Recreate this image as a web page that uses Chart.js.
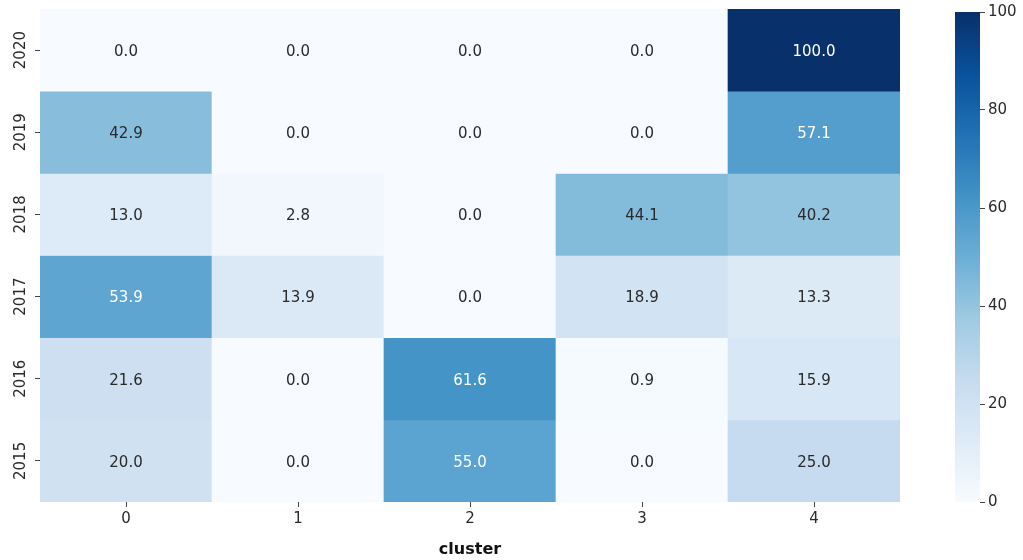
<!DOCTYPE html>
<html>
<head>
<meta charset="utf-8">
<script src="https://cdn.jsdelivr.net/npm/chart.js@4.4.1/dist/chart.umd.min.js"></script>
<style>
  body { margin: 0; background: #fff; }
  #wrap { position: relative; width: 1023px; height: 560px; }
  .box { position: absolute; top: 0; height: 560px; }
</style>
</head>
<body>
<div id="wrap">
  <div class="box" style="left:0;width:910px"><canvas id="heat"></canvas></div>
  <div class="box" style="left:940px;width:83px"><canvas id="cbar"></canvas></div>
</div>
<script>
// rows top to bottom
const years = ['2020', '2019', '2018', '2017', '2016', '2015'];
const clusters = ['0', '1', '2', '3', '4'];
const v2020 = [0.0, 0.0, 0.0, 0.0, 100.0];
const v2019 = [42.9, 0.0, 0.0, 0.0, 57.1];
const v2018 = [13.0, 2.8, 0.0, 44.1, 40.2];
const v2017 = [53.9, 13.9, 0.0, 18.9, 13.3];
const v2016 = [21.6, 0.0, 61.6, 0.9, 15.9];
const v2015 = [20.0, 0.0, 55.0, 0.0, 25.0];
const rows = [v2020, v2019, v2018, v2017, v2016, v2015];
const cbarTicks = [0, 20, 40, 60, 80, 100];

// matplotlib "Blues"
const blues = ['#f7fbff', '#deebf7', '#c6dbef', '#9ecae1', '#6baed6', '#4292c6', '#2171b5', '#08519c', '#08306b'];
function hex(h) { return [1, 3, 5].map(i => parseInt(h.substr(i, 2), 16)); }
function blueOf(v) {
  const t = Math.max(0, Math.min(1, v / 100)) * (blues.length - 1);
  const i = Math.min(Math.floor(t), blues.length - 2);
  const f = t - i;
  const a = hex(blues[i]), b = hex(blues[i + 1]);
  const c = a.map((x, k) => Math.round(x + (b[k] - x) * f));
  return 'rgb(' + c.join(',') + ')';
}

const FONT = '"DejaVu Sans", sans-serif';
const TXT = '#2a2a2a';
Chart.defaults.font.family = FONT;
Chart.defaults.color = TXT;

const nRows = years.length;
const datasets = rows.map((vals, i) => ({
  label: years[i],
  data: vals.map(() => [nRows - 1 - i, nRows - i]),
  backgroundColor: vals.map(blueOf),
  borderWidth: 0,
  barPercentage: 1,
  categoryPercentage: 1,
  grouped: false
}));

const cellLabels = {
  id: 'cellLabels',
  afterDatasetsDraw(chart) {
    const ctx = chart.ctx;
    ctx.save();
    ctx.font = '15px ' + FONT;
    ctx.textAlign = 'center';
    ctx.textBaseline = 'middle';
    chart.data.datasets.forEach((ds, i) => {
      chart.getDatasetMeta(i).data.forEach((el, j) => {
        const v = rows[i][j];
        ctx.fillStyle = v > 50 ? '#ffffff' : TXT;
        ctx.fillText(v.toFixed(1), el.x, (el.y + el.base) / 2 + 2);
      });
    });
    // rotated year labels
    const ys = chart.scales.y;
    ctx.fillStyle = TXT;
    years.forEach((y, i) => {
      ctx.save();
      ctx.translate(21, ys.getPixelForValue(nRows - 0.5 - i));
      ctx.rotate(-Math.PI / 2);
      ctx.fillText(y, 0, 0);
      ctx.restore();
    });
    ctx.restore();
  }
};

new Chart(document.getElementById('heat'), {
  type: 'bar',
  data: { labels: clusters, datasets: datasets },
  options: {
    responsive: true,
    maintainAspectRatio: false,
    animation: false,
    events: [],
    layout: { padding: { top: 9, right: 10, bottom: 0, left: 0 } },
    plugins: { legend: { display: false }, tooltip: { enabled: false } },
    scales: {
      x: {
        type: 'category',
        grid: { offset: false, drawOnChartArea: false, drawTicks: true, tickLength: 5, color: '#444' },
        border: { display: false },
        ticks: { font: { size: 15 }, color: TXT, padding: 3 },
        title: { display: true, text: 'cluster', font: { size: 16, weight: 'bold' }, color: '#111', padding: { top: 4, bottom: 1 } },
        afterFit(s) { s.height = 58; }
      },
      y: {
        type: 'linear',
        min: 0,
        max: nRows,
        afterBuildTicks(s) { s.ticks = years.map((y, i) => ({ value: nRows - 0.5 - i })); },
        grid: { drawOnChartArea: false, drawTicks: true, tickLength: 5, color: '#444' },
        border: { display: false },
        ticks: { display: false },
        afterFit(s) { s.width = 40; }
      }
    }
  },
  plugins: [cellLabels]
});

new Chart(document.getElementById('cbar'), {
  type: 'bar',
  data: {
    labels: [''],
    datasets: [{
      data: [[0, 100]],
      borderWidth: 0,
      barPercentage: 1,
      categoryPercentage: 1,
      backgroundColor(c) {
        const area = c.chart.chartArea;
        if (!area) return blues[4];
        const g = c.chart.ctx.createLinearGradient(0, area.bottom, 0, area.top);
        blues.forEach((b, i) => g.addColorStop(i / (blues.length - 1), b));
        return g;
      }
    }]
  },
  options: {
    responsive: true,
    maintainAspectRatio: false,
    animation: false,
    events: [],
    layout: { padding: { top: 9, right: 0, bottom: 58, left: 15 } },
    plugins: { legend: { display: false }, tooltip: { enabled: false } },
    scales: {
      x: { display: false },
      y: {
        position: 'right',
        min: 0,
        max: 100,
        afterBuildTicks(s) { s.ticks = cbarTicks.map(v => ({ value: v })); },
        grid: { drawOnChartArea: false, drawTicks: true, tickLength: 5, color: '#444' },
        border: { display: false },
        ticks: { font: { size: 15 }, color: TXT, padding: 3 },
        afterFit(s) { s.width = 43; }
      }
    }
  }
});
</script>
</body>
</html>
